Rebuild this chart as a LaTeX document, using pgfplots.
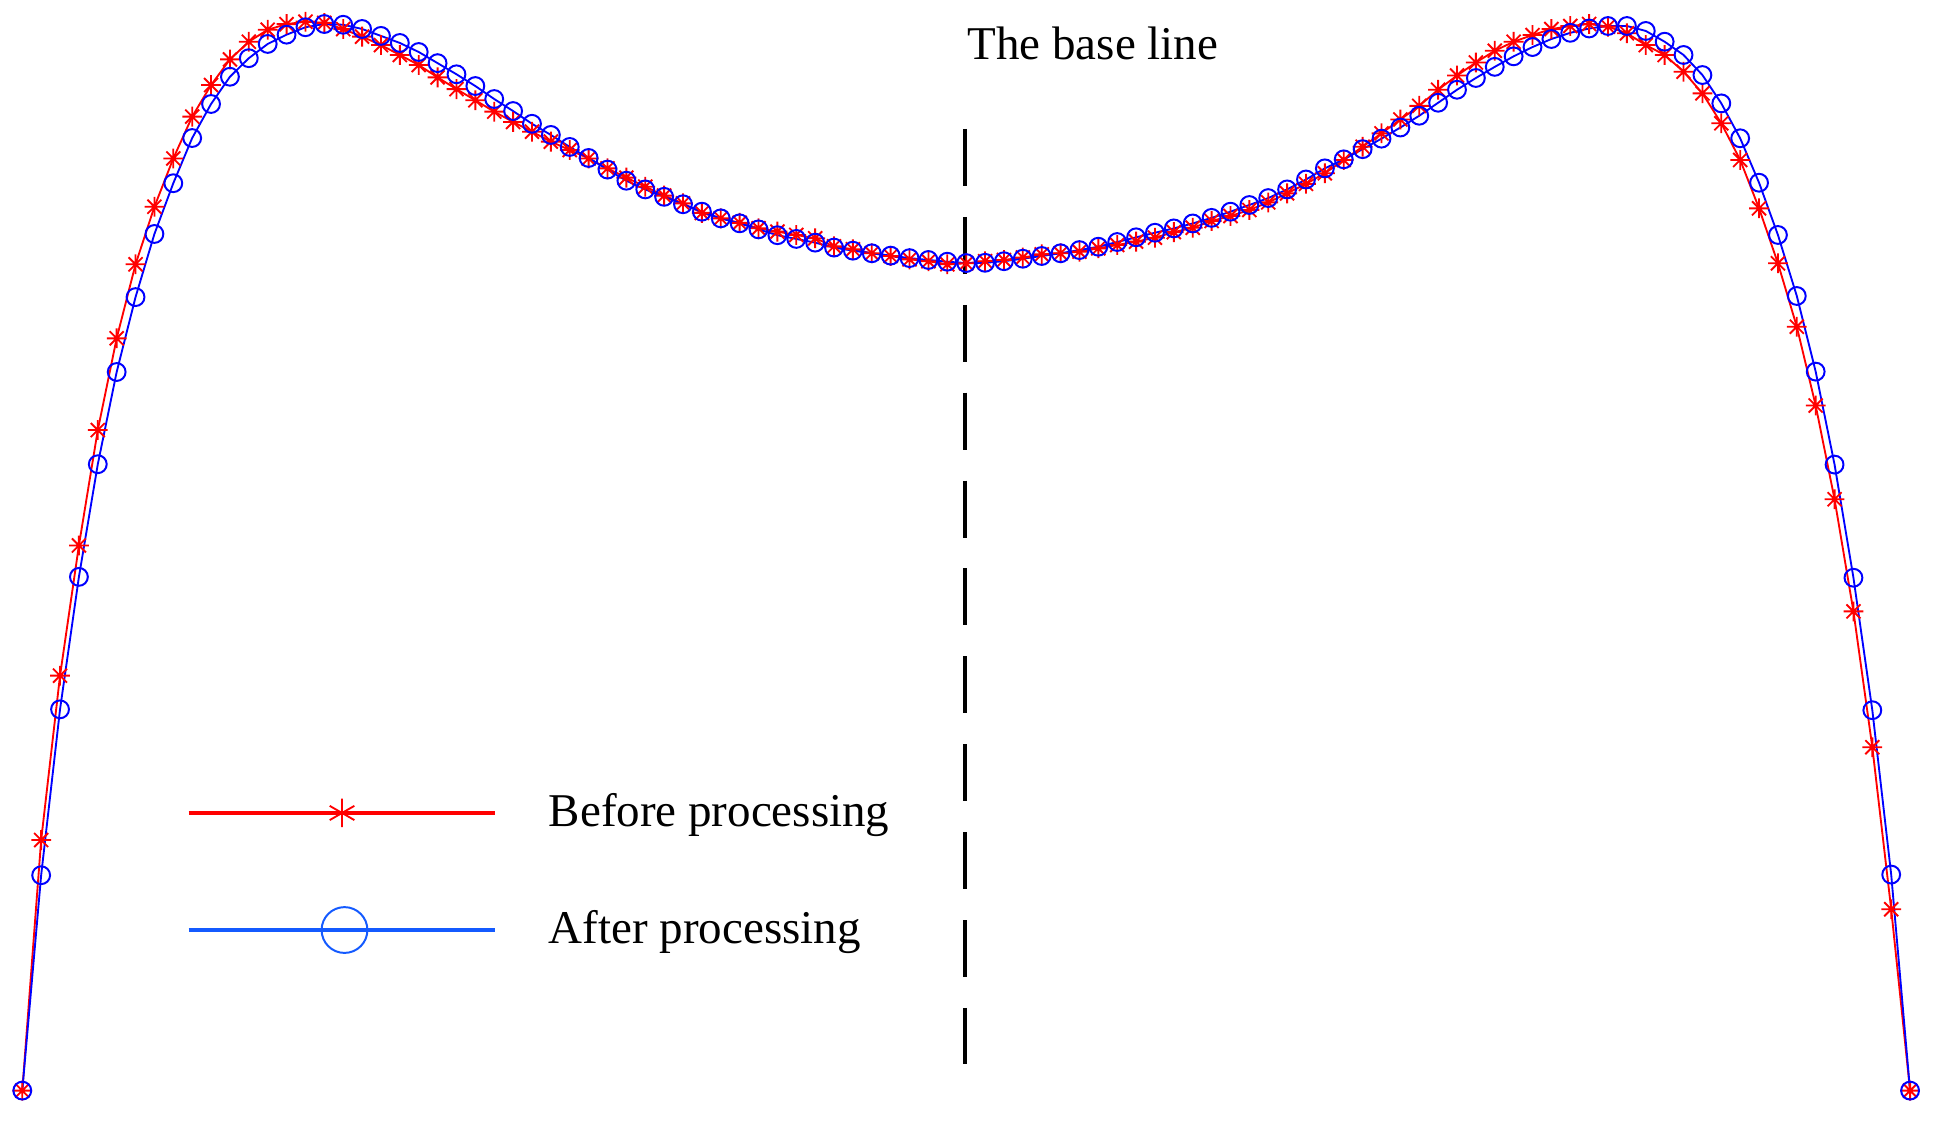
\documentclass[border=0pt]{standalone}
\usepackage{fontspec}
\setmainfont{Liberation Serif}
\usepackage{pgfplots}
\usepackage{pgfplotstable}
\pgfplotsset{compat=1.18}
\definecolor{legblue}{RGB}{20,90,255}
\pgfdeclareplotmark{ast8}{%
  \pgfpathmoveto{\pgfqpoint{-\pgfplotmarksize}{0pt}}\pgfpathlineto{\pgfqpoint{\pgfplotmarksize}{0pt}}%
  \pgfpathmoveto{\pgfqpoint{0pt}{-\pgfplotmarksize}}\pgfpathlineto{\pgfqpoint{0pt}{\pgfplotmarksize}}%
  \pgfpathmoveto{\pgfqpoint{-0.7071\pgfplotmarksize}{-0.7071\pgfplotmarksize}}\pgfpathlineto{\pgfqpoint{0.7071\pgfplotmarksize}{0.7071\pgfplotmarksize}}%
  \pgfpathmoveto{\pgfqpoint{-0.7071\pgfplotmarksize}{0.7071\pgfplotmarksize}}\pgfpathlineto{\pgfqpoint{0.7071\pgfplotmarksize}{-0.7071\pgfplotmarksize}}%
  \pgfusepathqstroke}
% x = 18 + 15.25 i (i = 0..100); y measured downward from top
\pgfplotstableread{
i before after
0 881 881
1 678.6 707
2 545.8 573
3 440.6 466
4 347.4 375
5 273.3 300.5
6 213.5 240
7 167 189
8 128 148
9 94.2 111.5
10 68.7 84
11 48 62
12 33.7 47
13 24 35.5
14 19.5 28
15 17.5 22
16 18.5 19.4
17 23.5 20
18 29.6 23.4
19 36.4 29
20 44.4 34.7
21 52.5 42
22 62.5 51
23 72 60
24 81 69.5
25 90.2 80
26 98.5 89.7
27 106.4 100
28 114.4 109
29 121.2 118.7
30 128 127.6
31 136 137
32 143.5 146
33 150.8 153
34 158 159
35 164.3 165
36 172 171
37 176.4 176.4
38 180 180.4
39 184.4 185.3
40 187.1 190
41 189.8 193
42 192.5 196
43 199 200
44 201.4 202.5
45 204.6 204.6
46 206.8 206.5
47 209.5 208.5
48 211 210
49 213.5 211.4
50 212.7 212.5
51 211 212.3
52 210 211
53 208 209
54 205.5 206.8
55 204.6 204.6
56 203.3 202
57 200.6 199.3
58 197.9 195.5
59 195.2 191.7
60 192 188
61 187.5 184.5
62 184 180.5
63 178.5 176
64 174.5 171
65 169.6 165.6
66 163.5 160
67 156.2 153
68 148.5 145
69 140 136
70 129.2 128.7
71 118.5 120.5
72 107.7 112
73 96.5 103
74 85.5 93.5
75 72.5 83
76 61 72.5
77 50.5 63
78 41 54
79 33.7 45.5
80 28.3 38
81 23.5 31.5
82 21 26.5
83 19.4 23
84 21.5 21
85 26.9 21
86 36.4 25
87 44.4 33.7
88 57.9 44.4
89 75.4 60.6
90 99.6 83.5
91 129.2 111.7
92 168.3 147.6
93 212.7 189.8
94 263.9 239.1
95 327.6 300.2
96 403.3 375.3
97 493.9 466.7
98 603.6 573.7
99 734.5 706.5
100 881 881
}\shape
\begin{document}
\begin{tikzpicture}
\begin{axis}[
  width=15.68cm, height=9.08cm, scale only axis,
  xmin=0, xmax=1568, ymin=0, ymax=908, y dir=reverse,
  hide axis, clip=false,
  legend style={draw=none, fill=none, at={(axis cs:150,704)}, anchor=west,
    inner sep=0pt, row sep=13.8pt,
    font=\fontsize{10.8}{12}\selectfont,
    /tikz/every odd column/.append style={column sep=3.5mm}},
  legend cell align=left,
]
\addplot[red, line width=0.15mm, mark=ast8, mark size=0.8mm, mark options={line width=0.15mm},
  legend image code/.code={
    \draw[red, line width=0.32mm] (0mm,0mm) -- (24.75mm,0mm);
    \draw[red, line width=0.4mm, mark=asterisk, mark size=1.15mm] plot coordinates {(12.4mm,0mm)};
  }]
  table[x expr={18+15.25*\thisrow{i}}, y=before] {\shape};
\addlegendentry{Before processing}
\addplot[blue, line width=0.15mm, mark=o, mark size=0.72mm, mark options={line width=0.16mm},
  legend image code/.code={
    \draw[legblue, line width=0.32mm] (0mm,0mm) -- (24.75mm,0mm);
    \draw[legblue, line width=0.3mm, mark=o, mark size=1.85mm] plot coordinates {(12.6mm,0mm)};
  }]
  table[x expr={18+15.25*\thisrow{i}}, y=after] {\shape};
\addlegendentry{After processing}
\addplot[black, line width=0.32mm, dash pattern=on 4.6mm off 2.5mm, forget plot]
  coordinates {(779.5,104.2) (779.5,859.5)};
\node[anchor=base west, inner sep=0pt, font=\fontsize{10.8}{12}\selectfont] at (axis cs:781,47.7) {The base line};
\end{axis}
\pgfresetboundingbox
\path (current axis.south west) rectangle (current axis.north east);
\end{tikzpicture}
\end{document}
